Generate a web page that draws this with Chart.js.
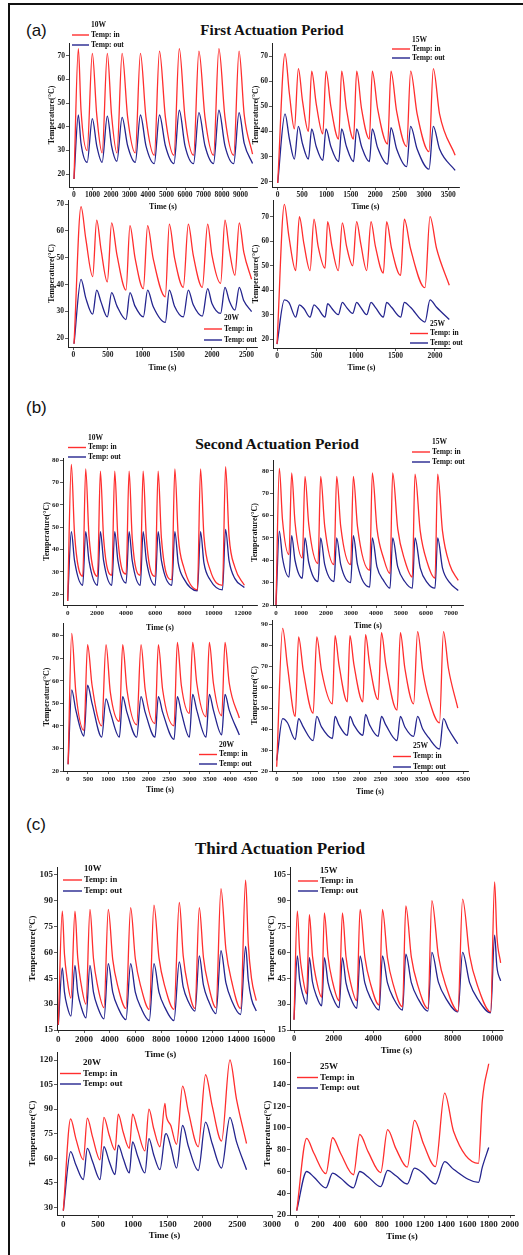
<!DOCTYPE html>
<html>
<head>
<meta charset="utf-8">
<script src="https://cdn.jsdelivr.net/npm/chart.js@4.4.1/dist/chart.umd.min.js"></script>
<style>
  html, body { margin:0; padding:0; }
  body { width:523px; height:1255px; position:relative; overflow:hidden; background:#fff; }
  #frame { position:absolute; left:8px; top:3px; width:640px; height:1400px; border-left:2px solid #111; border-top:2px solid #111; }
  .tag { position:absolute; font-family:"Liberation Sans", Arial, sans-serif; font-size:17px; line-height:1; color:#111; }
  .head { position:absolute; font-family:"Liberation Serif","Times New Roman",serif; font-weight:bold; line-height:1; color:#111; transform:translate(-50%,-50%); white-space:nowrap; }
  .plot { position:absolute; }
</style>
</head>
<body>
<div id="frame"></div>
<div class="tag" style="left:26px;top:22px">(a)</div>
<div class="head" style="left:272px;top:30px;font-size:15px">First Actuation Period</div>
<div class="tag" style="left:26px;top:399px">(b)</div>
<div class="head" style="left:277px;top:444px;font-size:15.5px">Second Actuation Period</div>
<div class="tag" style="left:26px;top:816px">(c)</div>
<div class="head" style="left:280px;top:848px;font-size:17px">Third Actuation Period</div>

<script>
// Heater power of each run
const powers = ['10W', '15W', '20W', '25W'];
const seriesNames = ['Temp: in', 'Temp: out'];

// ---- First actuation period: time (s), inlet / outlet temperature (°C) ----
const p1w10_t   = [0,235,380, 710,990,1230, 1520,1800,2030, 2320,2600,2900, 3310,3590,3890, 4340,4620,4940, 5400,5690,6000, 6460,6750,7080, 7540,7830,8160, 8630,8920,9200, 9650];
const p1w10_in  = [18,73,47, 30,71,45, 29,71,45, 29,71,44, 29,71,44, 28,72,44, 28,73,44, 28,72,44, 28,73,44, 28,72,45, 28.5];
const p1w10_out = [18,45,33, 25,43.5,32, 25,44.5,32, 25.5,44,32, 25,45,32, 24.5,45,32, 24.5,47,32, 24.5,46,32, 24.5,47,32, 24.5,46,33, 24.5];

const p1w15_t   = [0,150,240, 342,424,510, 630,697,790, 925,991,1090, 1250,1312,1410, 1555,1620,1720, 1880,1941,2050, 2255,2324,2440, 2645,2727,2860, 3105,3192,3320, 3640];
const p1w15_in  = [19.5,71,55, 41,65,52, 40,64,51, 39,64,50, 37,64,49, 37,64,49, 37,64,49, 35,64,48, 34,64,47, 32,65,47, 30.5];
const p1w15_out = [19.5,47,37, 29,42,35, 29,41,34, 28.5,41,34, 28,41,34, 28,41,34, 28,41,33.5, 27,41.5,33, 26,42,33, 25,42,33, 24.5];

const p1w20_t   = [10,111,180, 279,337,400, 490,553,630, 760,817,890, 1010,1072,1150, 1327,1385,1460, 1587,1659,1730, 1861,1938,2000, 2125,2188,2250, 2332,2394,2460, 2572];
const p1w20_in  = [18,69,57, 43,64,53, 41,63,51, 38,62,50, 38.5,62,50, 35.5,62.5,50, 39,62.5,51, 39,62.5,51, 40.5,64,53, 43.5,63,52, 42];
const p1w20_out = [18,42,35, 29,38,33.5, 28,37,32, 27,37,32, 28,38,32, 26,38,32, 28,38,32.5, 28.3,38.5,33, 29.3,39,34, 30.5,39,34, 30];

const p1w25_t   = [0,93,150, 236,283,340, 418,468,520, 608,641,695, 776,827,880, 958,1008,1060, 1135,1190,1245, 1346,1388,1450, 1565,1612,1690, 1873,1937,2020, 2181];
const p1w25_in  = [18,75,62, 48,70,59, 48,69,58, 49,68,58, 48,67.5,58, 50,68,59, 48,68,58, 47,68,57, 46,69,57, 41,70,57, 42];
const p1w25_out = [18,36,35, 29,34,32.5, 29,34,32.5, 29,34.5,32.5, 30,35,33, 30.5,35,33, 30,35,33, 29,35,33, 29,35,33, 27,36,33, 28];

// ---- Second actuation period ----
const p2w10_t   = [0,251,470, 1030,1234,1460, 2040,2240,2460, 3020,3223,3440, 4000,4206,4420, 4970,5166,5390, 5990,6194,6420, 7130,7337,7570,7950, 8880,9097,9330,9750, 10600,10811,11050,11450, 12100];
const p2w10_in  = [17,78,47, 28,76,46, 28,75,45, 28.5,75,45, 29,75,45, 28.5,75,45, 28,75,45, 26.5,76,46,32, 22,76,46,31, 24,77,46,32, 24];
const p2w10_out = [17,48,35, 24,48,35, 24,48,35, 24,48,35, 25,48,35, 24,48,35, 24,48,35, 24,48,34,27, 21.5,48,34,26.5, 22,49,35,27, 23];

const p2w15_t   = [0,133,260, 520,627,760, 1053,1160,1310, 1680,1787,1950, 2320,2427,2590, 2987,3093,3260, 3747,3853,4040,4300, 4560,4667,4870,5150, 5453,5560,5770,6050, 6360,6467,6660,6950, 7290];
const p2w15_in  = [20,81,58, 42.5,79,57, 41,77.5,56, 38.5,77.5,55, 38,77.5,55, 38,77.5,55, 35.5,79,54,41, 34,79,54,40, 32.5,78.5,53,39, 32,78.5,53,38, 31];
const p2w15_out = [20,53,41, 32.5,51,40, 32,50,39, 30.5,50,38, 30.5,50,38, 30,51,38, 28,50,37,31, 27.5,50,37,30.5, 27.5,50,36.5,30, 27.5,50,36.5,30, 26.5];

const p2w20_t   = [10,99,200, 400,490,600, 838,944,1050, 1273,1355,1460, 1700,1807,1910, 2152,2234,2340, 2620,2702,2800, 2998,3080,3180, 3409,3491,3590, 3795,3877,3980, 4230];
const p2w20_in  = [23,81,55, 38,76,58, 40,76,55, 42,76,56, 40.5,76,56, 41,76,56, 40,77,58, 45.5,77,59, 44,77,59, 44.5,77,59, 43.5];
const p2w20_out = [23,56,47, 35.5,58,50, 35,52,46, 35,53,46, 35,53,46, 35,53,46, 34,53,46, 35,54,47, 35,54,47, 36,54,47, 36];

const p2w25_t   = [0,144,260, 448,528,640, 879,967,1080, 1343,1407,1500, 1703,1766,1860, 2078,2142,2240, 2446,2526,2630, 2902,2982,3090, 3301,3397,3520,3660, 3925,4021,4140, 4365];
const p2w25_in  = [22,88,70, 46,84,68, 47.5,84,68, 52,84.5,71, 53,84.5,71, 53,85,71, 54,86,71, 49,86,69, 52,86.5,68,55, 43,86.5,69, 50];
const p2w25_out = [25,45,43, 35,45,41, 34.5,46,41, 35.5,46,42, 37,46,42, 37,47,42, 36.5,46,42, 34.5,46,41, 36.5,46,40,36, 30.5,45,40, 33];

// ---- Third actuation period ----
const p3w10_t   = [0,311,480,682, 985,1296,1510,1767, 2152,2463,2735,3062, 3552,3889,4233,4645, 5263,5626,5989,6425, 7078,7441,7830,8296, 8996,9412,9716,10082, 10630,10967,11291,11680, 12263,12652,13034,13493, 14181,14571,14778,15027, 15400];
const p3w10_in  = [18,84,59,45, 33.5,84,57,42, 30,85,56.5,40.5, 28,85,56,40, 27.5,86,56.5,40, 27,87.5,57,40, 27,89,58,40.5, 27.5,86,57,41, 28,97,62,43, 27.5,102,65,45, 32];
const p3w10_out = [18,51,37,29, 23,52.5,37,28.7, 22,52.5,37,28.3, 21.5,53.5,37,28, 21,53.5,37,28, 20.5,53.5,37,28, 20.5,54.5,40,32, 26,58,41,32, 24.5,61,42.5,32, 24,63.5,44,33, 26];

const p3w15_t   = [0,168,286,428, 640,774,930,1117, 1397,1532,1717,1940, 2273,2441,2622,2839, 3165,3333,3573,3861, 4293,4461,4714,5017, 5471,5640,5918,6251, 6751,6953,7281,7675, 8266,8502,8856,9280, 9916,10118,10230, 10420];
const p3w15_in  = [21,84,60,46.6, 36,82,58,44.6, 34,83,57.5,43.2, 32,83,57.5,43.2, 32,85,57.3,41.7, 29.5,85,56.8,40.9, 28.5,87,57.3,40.6, 27.5,90,58,40.1, 26,91,58.3,39.9, 25.5,101,70, 54];
const p3w15_out = [21,58,44,36.2, 30,57,43,35.2, 29,57,42.5,34.4, 28,57,42.3,34, 27.5,58,42.3,33.4, 26.5,58,42.3,33.4, 26.5,59,42.5,33.3, 26,60,42.8,33.1, 25.5,60,42.5,32.7, 25,70,52, 43.5];

const p3w20_t   = [0,105,180, 287,345,420, 527,584,660, 743,790,860, 948,996,1070, 1173,1231,1300, 1389,1461,1478,1545, 1628,1715,1800, 1940,2045,2140, 2275,2395,2490, 2634];
const p3w20_in  = [28,84,72, 59,84.5,73, 59,85,74, 65,87,76, 66,87,77, 64.5,90,78, 67,93.5,86.5,80, 68.5,104,88, 67,111,92, 70.5,120,96, 69];
const p3w20_out = [28,64,56, 47,66,58, 47,67,58, 50,68,60, 51,70,61, 51,72,62, 53,74,75,67, 54,80,67, 52.5,82,69, 54,85,70, 53];

const p3w25_t   = [0,93,160, 274,336,410, 532,591,670, 787,852,930, 1036,1104,1190, 1300,1387,1470, 1704,1740,1800];
const p3w25_in  = [24,90.5,77, 58,91,77, 57,94,78, 59,98.5,81, 64,107,85, 64.5,132,97, 67.5,125,159];
const p3w25_out = [24,60,55, 45,58.5,54, 45,60,55, 46,61,56, 48.5,63,58, 48.5,69,62, 50,64,82];

// ---- Axis tick values ----
const p1w10_xt = [0,1000,2000,3000,4000,5000,6000,7000,8000,9000];
const p1w15_xt = [0,500,1000,1500,2000,2500,3000,3500];
const p1w20_xt = [0,500,1000,1500,2000,2500];
const p1w25_xt = [0,500,1000,1500,2000];
const p1_yt    = [20,30,40,50,60,70];
const p2w10_xt = [0,2000,4000,6000,8000,10000,12000];
const p2w15_xt = [0,1000,2000,3000,4000,5000,6000,7000];
const p2w20_xt = [0,500,1000,1500,2000,2500,3000,3500,4000,4500];
const p2w25_xt = [0,500,1000,1500,2000,2500,3000,3500,4000,4500];
const p2_yt    = [20,30,40,50,60,70,80];
const p2w25_yt = [20,30,40,50,60,70,80,90];
const p3w10_xt = [0,2000,4000,6000,8000,10000,12000,14000,16000];
const p3w15_xt = [0,2000,4000,6000,8000,10000];
const p3w20_xt = [0,500,1000,1500,2000,2500,3000];
const p3w25_xt = [0,200,400,600,800,1000,1200,1400,1600,1800,2000];
const p3_yt    = [15,30,45,60,75,90,105];
const p3w20_yt = [30,45,60,75,90,105,120];
const p3w25_yt = [20,40,60,80,100,120,140,160];

const SERIF = "'Liberation Serif','Times New Roman',serif";
const RED = '#ff2e2e';
const BLUE = '#24248e';

// Legend drawn inside the plot: power label, then one line sample per series
const insideLegend = {
  id: 'insideLegend',
  afterDraw(chart, args, o) {
    const ctx = chart.ctx;
    ctx.save();
    ctx.font = 'bold ' + o.size + 'px ' + SERIF;
    ctx.fillStyle = '#111';
    ctx.textBaseline = 'middle';
    ctx.textAlign = 'left';
    const tx = o.x + o.len + 2;
    ctx.fillText(o.title, tx, o.y);
    chart.data.datasets.forEach((d, i) => {
      const y = o.y + o.gap * (i + 1);
      ctx.strokeStyle = d.borderColor;
      ctx.lineWidth = 1.4;
      ctx.beginPath();
      ctx.moveTo(o.x, y);
      ctx.lineTo(o.x + o.len, y);
      ctx.stroke();
      ctx.fillText(d.label, tx, y);
    });
    ctx.restore();
  }
};

const panels = [
  { t:p1w10_t, tin:p1w10_in, tout:p1w10_out, xt:p1w10_xt, yt:p1_yt, power:powers[0],
    box:{l:69,r:257,t:43,b:187}, xr:[-270,9890], yr:[14.6,75.4], ytOff:17, xtOff:20,
    leg:{x:72,y:25,gap:10,len:17}, f:{tick:7.5,title:8,leg:7.5} },
  { t:p1w15_t, tin:p1w15_in, tout:p1w15_out, xt:p1w15_xt, yt:p1_yt, power:powers[1],
    box:{l:272,r:459,t:43,b:187}, xr:[-117,3719], yr:[17.9,75.2], ytOff:16, xtOff:20,
    leg:{x:392,y:40,gap:9,len:18}, f:{tick:7.5,title:8,leg:7.5} },
  { t:p1w20_t, tin:p1w20_in, tout:p1w20_out, xt:p1w20_xt, yt:p1_yt, power:powers[2],
    box:{l:68,r:257,t:200,b:347}, xr:[-77,2650], yr:[16.8,71.5], ytOff:16, xtOff:21,
    leg:{x:204,y:318,gap:11,len:18}, f:{tick:7.5,title:8,leg:7.5} },
  { t:p1w25_t, tin:p1w25_in, tout:p1w25_out, xt:p1w25_xt, yt:p1_yt, power:powers[3],
    box:{l:273,r:450,t:200,b:348}, xr:[-51,2190], yr:[16.4,76.8], ytOff:17, xtOff:20,
    leg:{x:410,y:324,gap:9.5,len:18}, f:{tick:7.5,title:8,leg:7.5} },

  { t:p2w10_t, tin:p2w10_in, tout:p2w10_out, xt:p2w10_xt, yt:p2_yt, power:powers[0],
    box:{l:63,r:257,t:458,b:605}, xr:[-320,12963], yr:[15.2,80.9], ytOff:16, xtOff:23,
    leg:{x:68,y:438,gap:9.5,len:18}, f:{tick:7,title:8,leg:7.5} },
  { t:p2w15_t, tin:p2w15_in, tout:p2w15_out, xt:p2w15_xt, yt:p2_yt, power:powers[1],
    box:{l:273,r:463,t:460,b:605}, xr:[-120,7480], yr:[20,84.8], ytOff:18, xtOff:21,
    leg:{x:412,y:442,gap:10,len:18}, f:{tick:7,title:8,leg:7.5} },
  { t:p2w20_t, tin:p2w20_in, tout:p2w20_out, xt:p2w20_xt, yt:p2_yt, power:powers[2],
    box:{l:63,r:257,t:623,b:771}, xr:[-116,4665], yr:[20,85.6], ytOff:16, xtOff:19,
    leg:{x:199,y:745,gap:9.5,len:18}, f:{tick:7,title:8,leg:7.5} },
  { t:p2w25_t, tin:p2w25_in, tout:p2w25_out, xt:p2w25_xt, yt:p2w25_yt, power:powers[3],
    box:{l:272,r:468,t:620,b:771}, xr:[-113,4612], yr:[20,92], ytOff:17, xtOff:21,
    leg:{x:393,y:746,gap:10.5,len:18}, f:{tick:7,title:8,leg:7.5} },

  { t:p3w10_t, tin:p3w10_in, tout:p3w10_out, xt:p3w10_xt, yt:p3_yt, power:powers[0],
    box:{l:57,r:264,t:867,b:1030}, xr:[-101,16000], yr:[15,109.6], ytOff:25, xtOff:25,
    leg:{x:63,y:869,gap:11,len:19}, f:{tick:9,title:9,leg:8.7} },
  { t:p3w15_t, tin:p3w15_in, tout:p3w15_out, xt:p3w15_xt, yt:p3_yt, power:powers[1],
    box:{l:290,r:503,t:867,b:1030}, xr:[-202,10540], yr:[15,109.6], ytOff:19, xtOff:21,
    leg:{x:298,y:871,gap:10,len:20}, f:{tick:8.5,title:9,leg:8.7} },
  { t:p3w20_t, tin:p3w20_in, tout:p3w20_out, xt:p3w20_xt, yt:p3w20_yt, power:powers[2],
    box:{l:57,r:272,t:1052,b:1215}, xr:[-91,3000], yr:[25.3,124.9], ytOff:25, xtOff:21,
    leg:{x:60,y:1063,gap:10.5,len:21}, f:{tick:9,title:9,leg:9} },
  { t:p3w25_t, tin:p3w25_in, tout:p3w25_out, xt:p3w25_xt, yt:p3w25_yt, power:powers[3],
    box:{l:290,r:514,t:1052,b:1215}, xr:[-63,2037], yr:[20,169.8], ytOff:23, xtOff:22,
    leg:{x:297,y:1067,gap:10.5,len:21}, f:{tick:9,title:9,leg:9} }
];

function axisFont(size) { return { family: SERIF, size: size, weight: 'bold' }; }

function drawPanel(p) {
  const PT = 26, PR = 16;
  const YW = Math.round(p.ytOff + p.f.title * 1.2 / 2);
  const XH = Math.round(p.xtOff + p.f.title * 1.2 / 2);
  const left = p.box.l - YW, top = p.box.t - PT;
  const w = p.box.r - p.box.l + YW + PR;
  const h = p.box.b - p.box.t + PT + XH;

  const div = document.createElement('div');
  div.className = 'plot';
  div.style.left = left + 'px';
  div.style.top = top + 'px';
  const cv = document.createElement('canvas');
  cv.width = w; cv.height = h;
  cv.style.width = w + 'px'; cv.style.height = h + 'px';
  div.appendChild(cv);
  document.body.appendChild(div);

  const line = (vals, name, color) => ({
    label: name,
    data: p.t.map((x, i) => ({ x: x, y: vals[i] })),
    borderColor: color,
    backgroundColor: color,
    borderWidth: 1.3,
    pointRadius: 0,
    fill: false,
    cubicInterpolationMode: 'monotone'
  });

  const axis = (range, ticks, title, isX) => ({
    type: 'linear',
    min: range[0],
    max: range[1],
    afterBuildTicks: s => { s.ticks = ticks.map(v => ({ value: v })); },
    afterFit: s => { if (isX) s.height = XH; else s.width = YW; },
    grid: { display: true, drawOnChartArea: false, drawTicks: true, tickLength: 3, color: '#333', lineWidth: 0.8 },
    border: { display: true, color: '#222', width: 1 },
    ticks: { font: axisFont(p.f.tick), color: '#1a1a1a', padding: 1, maxRotation: 0, autoSkip: false,
             callback: v => String(v) },
    title: { display: true, text: title, font: axisFont(p.f.title), color: '#111', padding: 0 }
  });

  new Chart(cv, {
    type: 'line',
    data: { datasets: [ line(p.tin, seriesNames[0], RED), line(p.tout, seriesNames[1], BLUE) ] },
    options: {
      responsive: false,
      animation: false,
      devicePixelRatio: 1,
      layout: { padding: { left: 0, top: PT, right: PR, bottom: 0 }, autoPadding: false },
      scales: {
        x: axis(p.xr, p.xt, 'Time (s)', true),
        y: axis(p.yr, p.yt, 'Temperature(°C)', false)
      },
      plugins: {
        legend: { display: false },
        tooltip: { enabled: false },
        insideLegend: { x: p.leg.x - left, y: p.leg.y - top, gap: p.leg.gap, len: p.leg.len,
                         title: p.power, size: p.f.leg }
      }
    },
    plugins: [insideLegend]
  });
}

panels.forEach(drawPanel);
</script>
</body>
</html>
